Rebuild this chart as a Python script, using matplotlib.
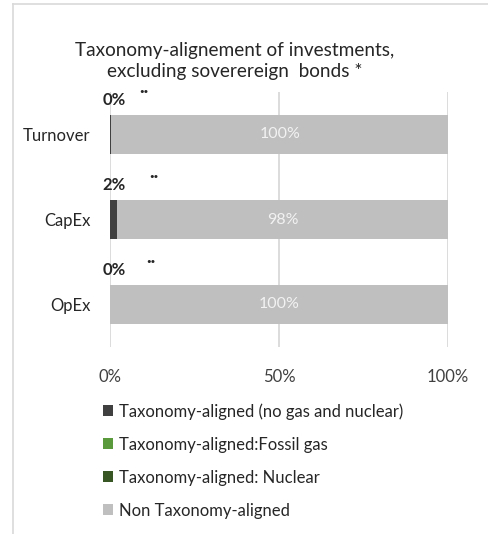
import matplotlib.pyplot as plt
from matplotlib.lines import Line2D
import numpy as np

plt.rcParams['font.family'] = ['Lato', 'DejaVu Sans']

# данные
categories = ['Turnover', 'CapEx', 'OpEx']
aligned = [0.4, 2.0, 0.0]
fossil_gas = [0.0, 0.0, 0.0]
nuclear = [0.0, 0.0, 0.0]
non_aligned = [99.6, 98.0, 100.0]
series_names = ['Taxonomy-aligned (no gas and nuclear)', 'Taxonomy-aligned:Fossil gas',
                'Taxonomy-aligned: Nuclear', 'Non Taxonomy-aligned']
colors = ['#404040', '#5b9a3c', '#375623', '#bfbfbf']
x_ticks = [0, 50, 100]
title = 'Taxonomy-alignement of investments,\nexcluding sovere' + 'reign  bonds *'

fig = plt.figure(figsize=(4.88, 5.34), dpi=100)
ax = fig.add_axes([110 / 488, 1 - 347 / 534, 338 / 488, 255 / 534])

y = np.arange(len(categories))
left = np.zeros(len(categories))
for vals, name, col in zip([aligned, fossil_gas, nuclear, non_aligned], series_names, colors):
    ax.barh(y, vals, left=left, height=0.45, color=col, label=name, zorder=2)
    left = left + np.array(vals)

# подписи внутри серой части
for i, v in enumerate(non_aligned):
    ax.text(aligned[i] + v / 2, y[i], f'{v:.0f}%', ha='center', va='center',
            color='#f2f2f2', fontsize=11.5, zorder=3)

# подписи над столбцами
dot_x = [10, 13, 12]
for i, v in enumerate(aligned):
    ax.text(1.2, y[i] - 0.41, f'{v:.0f}%', ha='center', va='center',
            fontsize=12, fontweight='bold', color='#262626')
    ax.text(dot_x[i], y[i] - 0.5, '··', ha='center', va='center',
            fontsize=12, fontweight='bold', color='#262626')

ax.set_xlim(0, 100)
ax.set_ylim(2.5, -0.5)
ax.set_xticks(x_ticks)
ax.set_xticklabels([f'{t}%' for t in x_ticks], fontsize=12, color='#404040')
ax.set_yticks(y)
ax.set_yticklabels(categories, fontsize=12, color='#262626')
ax.tick_params(length=0)
ax.tick_params(axis='x', pad=16)
ax.tick_params(axis='y', pad=14)
ax.grid(axis='x', color='#d9d9d9', linewidth=1.3, zorder=0)
for s in ax.spines.values():
    s.set_visible(False)

fig.text(235 / 488, 1 - 61 / 534, title, ha='center', va='center',
         fontsize=13.7, color='#262626', linespacing=1.3)

fig.legend(loc='upper left', bbox_to_anchor=(103 / 488, 1 - 403 / 534), frameon=False,
           fontsize=12, handlelength=0.6, handleheight=0.6, handletextpad=0.35,
           labelspacing=1.02, borderpad=0, borderaxespad=0, labelcolor='#262626')

# рамка
fig.add_artist(Line2D([13 / 488, 1], [1 - 4 / 534, 1 - 4 / 534], color='#d9d9d9', lw=1.2))
fig.add_artist(Line2D([13 / 488, 13 / 488], [0, 1 - 4 / 534], color='#d9d9d9', lw=1.2))

plt.savefig('out.png', dpi=100)
